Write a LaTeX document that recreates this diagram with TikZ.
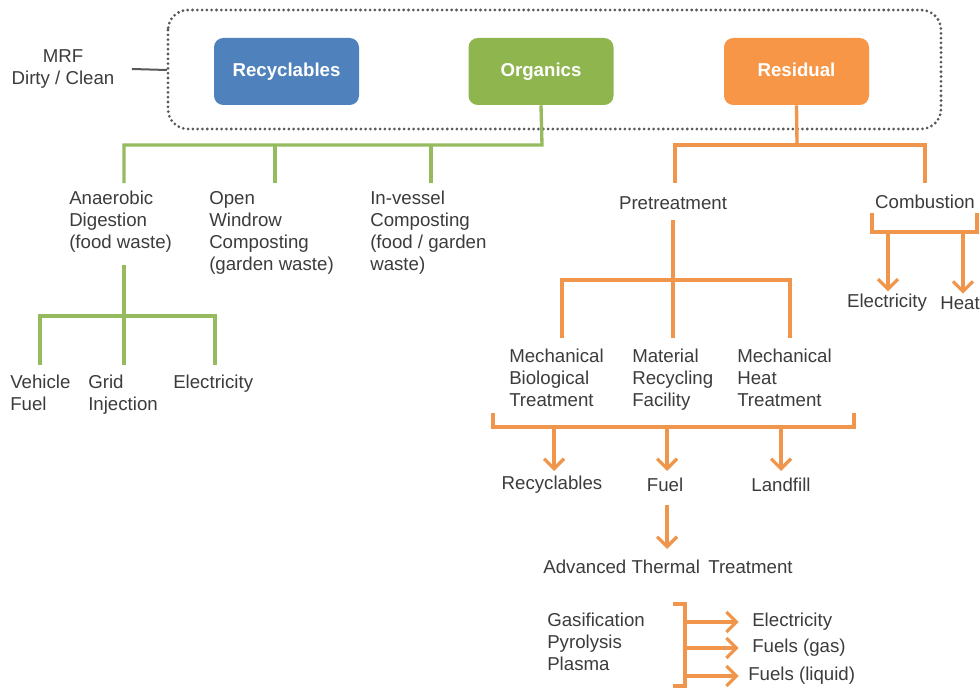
\documentclass[tikz,border=0pt]{standalone}
\usepackage{fontspec}
\setmainfont{Liberation Sans}
\usetikzlibrary{arrows.meta}
\definecolor{cblue}{HTML}{4F81BD}
\definecolor{cgreen}{HTML}{8FB54E}
\definecolor{corange}{HTML}{F79646}
\definecolor{ctext}{HTML}{3C3C3C}
\definecolor{gline}{HTML}{96BA5E}
\definecolor{oline}{HTML}{F0964C}
\begin{document}
\begin{tikzpicture}[x=0.75pt,y=-0.75pt,
  box/.style={rounded corners=7pt, minimum width=108.75pt, minimum height=50.25pt,
    font=\fontsize{14}{16}\selectfont\bfseries, text=white, inner sep=0, text height=10pt, text depth=3pt},
  lbl/.style={font=\fontsize{14}{16.5}\selectfont, text=ctext, align=left, inner sep=0, anchor=north west},
  clbl/.style={font=\fontsize{14}{16.5}\selectfont, text=ctext, inner sep=0},
  gl/.style={draw=gline, line width=2.5pt},
  ol/.style={draw=oline, line width=2.5pt},
  oar/.style={ol, -{Straight Barb[length=7.5pt,width=15pt,line width=2.4pt]}}
]
\useasboundingbox (0,0) rectangle (980,688);
\fill[white] (0,0) rectangle (980,688);

% frame
\draw[draw=ctext!85, line width=2.3pt, dash pattern=on 0pt off 3.6pt, line cap=round, rounded corners=15pt]
  (168,10) rectangle (941,129);
\coordinate (fw) at (167,70);
\node[clbl, align=center] (mrf) at (63,69) {MRF\\Dirty / Clean};
\draw[ctext!85, line width=1.5pt] ([xshift=13pt]mrf.east) -- (fw);

% top boxes
\node[box, fill=cblue] (rec) at (286.5,71.5) {Recyclables};
\node[box, fill=cgreen] (org) at (541,71.5) {Organics};
\node[box, fill=corange] (res) at (796.5,71.5) {Residual};

% organics tree
\coordinate (gj) at (542,145);
\coordinate (g1) at (124,183);
\coordinate (g2) at (275,183);
\coordinate (g3) at (431,183);
\draw[gl] (org.south) -- (gj) -- (g1|-gj) -- (g1);
\draw[gl] (g2|-gj) -- (g2);
\draw[gl] (g3|-gj) -- (g3);
\node[lbl] (ad) at (69,191) {Anaerobic\\Digestion\\(food waste)};
\node[lbl] (ow) at (209,191) {Open\\Windrow\\Composting\\(garden waste)};
\node[lbl] (iv) at (370,191) {In-vessel\\Composting\\(food / garden\\waste)};

\coordinate (a0) at (124,265);
\coordinate (aj) at (124,316);
\coordinate (v1) at (40,365);
\coordinate (v2) at (124,365);
\coordinate (v3) at (215,365);
\draw[gl] (a0) -- (v2);
\draw[gl] (v1) -- (v1|-aj) -- (v3|-aj) -- (v3);
\node[lbl] (vf) at (10,375) {Vehicle\\Fuel};
\node[lbl] (gi) at (88,375) {Grid\\Injection};
\node[lbl] (el1) at (173,375) {Electricity};

% residual tree
\coordinate (rj) at (797,145);
\coordinate (p0) at (675,183);
\coordinate (c0) at (925,183);
\draw[ol] (res.south) -- (rj);
\draw[ol] (p0) -- (p0|-rj) -- (c0|-rj) -- (c0);
\node[clbl] (pre) at (673,203) {Pretreatment};
\node[clbl] (com) at (925,202) {Combustion};

% combustion bracket
\draw[ol] (872,213) -- (872,232) -- (977,232) -- (977,213);
\coordinate (cb1) at (888,232);
\coordinate (cb2) at (963,232);
\node[clbl] (el2) at (887,303) {Electricity};
\node[clbl, anchor=west] (heat) at (940,303) {Heat};
\draw[oar] (cb1) -- ([yshift=2pt]cb1|-el2.north);
\draw[oar] (cb2) -- ([yshift=2pt]cb2|-heat.north);

% pretreatment subtree
\coordinate (pt0) at (673,220);
\coordinate (ptj) at (673,280);
\coordinate (q1) at (562,338);
\coordinate (q2) at (673,338);
\coordinate (q3) at (790,338);
\draw[ol] (pt0) -- (q2);
\draw[ol] (q1) -- (q1|-ptj) -- (q3|-ptj) -- (q3);
\node[lbl] (mbt) at (509,349) {Mechanical\\Biological\\Treatment};
\node[lbl] (mrfac) at (632,349) {Material\\Recycling\\Facility};
\node[lbl] (mht) at (737,349) {Mechanical\\Heat\\Treatment};

\draw[ol] (493,413) -- (493,427) -- (854,427) -- (854,413);
\coordinate (b1) at (554,427);
\coordinate (b2) at (667,427);
\coordinate (b3) at (781,427);
\node[clbl] (rc2) at (552,485) {Recyclables};
\node[clbl] (fuel) at (665,485) {Fuel};
\node[clbl] (lf) at (781,485) {Landfill};
\draw[oar] (b1) -- (554,471);
\draw[oar] (b2) -- (667,471);
\draw[oar] (b3) -- (781,471);

\node[clbl] (att) at (668,567) {Advanced Thermal\, Treatment};
\draw[oar] (667,505) -- (667,549);

% ATT bracket
\node[lbl] (gas) at (547,613) {Gasification\\Pyrolysis\\Plasma};
\draw[ol] (673,604) -- (685,604) -- (685,686) -- (673,686);
\node[clbl, anchor=west] (o1) at (752,622) {Electricity};
\node[clbl, anchor=west] (o2) at (752,648) {Fuels (gas)};
\node[clbl, anchor=west] (o3) at (748,676) {Fuels (liquid)};
\draw[oar, shorten >=10pt] (685,622) -- (o1.west);
\draw[oar, shorten >=10pt] (685,648) -- (o2.west);
\draw[oar, shorten >=7pt] (685,676) -- (o3.west);
\end{tikzpicture}
\end{document}
